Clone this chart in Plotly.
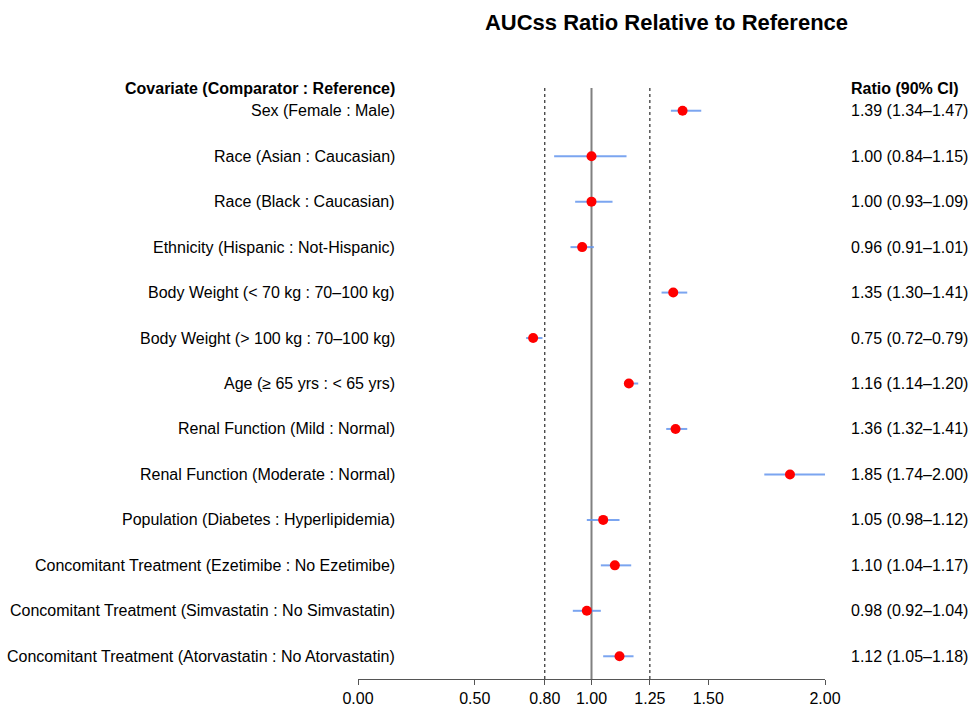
import plotly.graph_objects as go

# ---- data ----
covariates = [
    "Sex (Female : Male)",
    "Race (Asian : Caucasian)",
    "Race (Black : Caucasian)",
    "Ethnicity (Hispanic : Not-Hispanic)",
    "Body Weight (< 70 kg : 70–100 kg)",
    "Body Weight (> 100 kg : 70–100 kg)",
    "Age (≥ 65 yrs : < 65 yrs)",
    "Renal Function (Mild : Normal)",
    "Renal Function (Moderate : Normal)",
    "Population (Diabetes : Hyperlipidemia)",
    "Concomitant Treatment (Ezetimibe : No Ezetimibe)",
    "Concomitant Treatment (Simvastatin : No Simvastatin)",
    "Concomitant Treatment (Atorvastatin : No Atorvastatin)",
]
ratio = [1.39, 1.00, 1.00, 0.96, 1.35, 0.75, 1.16, 1.36, 1.85, 1.05, 1.10, 0.98, 1.12]
ci_low = [1.34, 0.84, 0.93, 0.91, 1.30, 0.72, 1.14, 1.32, 1.74, 0.98, 1.04, 0.92, 1.05]
ci_high = [1.47, 1.15, 1.09, 1.01, 1.41, 0.79, 1.20, 1.41, 2.00, 1.12, 1.17, 1.04, 1.18]
tick_vals = [0.00, 0.50, 0.80, 1.00, 1.25, 1.50, 2.00]
tick_text = ["0.00", "0.50", "0.80", "1.00", "1.25", "1.50", "2.00"]
ref_solid = 1.00
ref_dashed = [0.80, 1.25]
title_text = "AUCss Ratio Relative to Reference"
left_header = "Covariate (Comparator : Reference)"
right_header = "Ratio (90% CI)"

rows = list(range(1, len(covariates) + 1))
FONT = "Liberation Sans, Arial, Helvetica, sans-serif"

def esc(s):
    return s.replace("&", "&amp;").replace("<", "&lt;").replace(">", "&gt;")

fig = go.Figure()

# CI lines
xs, ys = [], []
for r, lo, hi in zip(rows, ci_low, ci_high):
    xs += [lo, hi, None]
    ys += [r, r, None]
fig.add_trace(go.Scatter(x=xs, y=ys, mode="lines",
                         line=dict(color="rgba(100,149,237,0.85)", width=2),
                         hoverinfo="skip", showlegend=False))
# points
fig.add_trace(go.Scatter(x=ratio, y=rows, mode="markers",
                         marker=dict(color="#ff0000", size=10, line=dict(width=0)),
                         showlegend=False))

# reference lines
fig.add_shape(type="line", xref="x", yref="paper", x0=ref_solid, x1=ref_solid, y0=0, y1=1,
              line=dict(color="#808080", width=2), layer="below")
for v in ref_dashed:
    fig.add_shape(type="line", xref="x", yref="paper", x0=v, x1=v, y0=0, y1=1,
                  line=dict(color="black", width=1, dash="3px,3px"), layer="below")

anns = []
LX = (397 - 358.3) / 466.7
RX = (849 - 358.3) / 466.7
anns.append(dict(text="<b>" + esc(left_header) + "</b>", x=LX, y=0.5, xref="paper", yref="y",
                 xanchor="right", yanchor="middle", showarrow=False,
                 font=dict(size=16, color="black", family=FONT)))
anns.append(dict(text="<b>" + esc(right_header) + "</b>", x=RX, y=0.5, xref="paper", yref="y",
                 xanchor="left", yanchor="middle", showarrow=False,
                 font=dict(size=16, color="black", family=FONT)))
for r, c, v, lo, hi in zip(rows, covariates, ratio, ci_low, ci_high):
    anns.append(dict(text=esc(c), x=LX, y=r, xref="paper", yref="y",
                     xanchor="right", yanchor="middle", showarrow=False,
                     font=dict(size=16, color="black", family=FONT)))
    anns.append(dict(text=f"{v:.2f} ({lo:.2f}–{hi:.2f})", x=RX, y=r, xref="paper", yref="y",
                     xanchor="left", yanchor="middle", showarrow=False,
                     font=dict(size=16, color="black", family=FONT)))

fig.update_layout(
    width=968, height=705,
    margin=dict(l=358, r=143, t=88, b=26, pad=0),
    paper_bgcolor="white", plot_bgcolor="white",
    title=dict(text="<b>" + title_text + "</b>", x=666.5 / 968, xanchor="center",
               y=1 - 22 / 705, yanchor="middle", xref="container", yref="container",
               font=dict(size=22, color="black", family=FONT)),
    xaxis=dict(range=[0, 2], tickvals=tick_vals, ticktext=tick_text,
               showgrid=False, zeroline=False, showline=True, linecolor="#555555", linewidth=1,
               ticks="outside", ticklen=5, tickcolor="#555555", tickwidth=1,
               tickfont=dict(size=16, color="black", family=FONT), fixedrange=True),
    yaxis=dict(range=[len(covariates) + 0.5, 0.5], showgrid=False, zeroline=False,
               showline=False, showticklabels=False, ticks="", fixedrange=True),
    annotations=anns,
    showlegend=False,
)
fig.update_xaxes(automargin=False)
fig.update_yaxes(automargin=False)

fig.write_html(
    "out.html",
    config={"displayModeBar": False},
    post_script="document.body.style.margin='0';document.body.style.overflow='hidden';"
                "document.documentElement.style.overflow='hidden';",
)
